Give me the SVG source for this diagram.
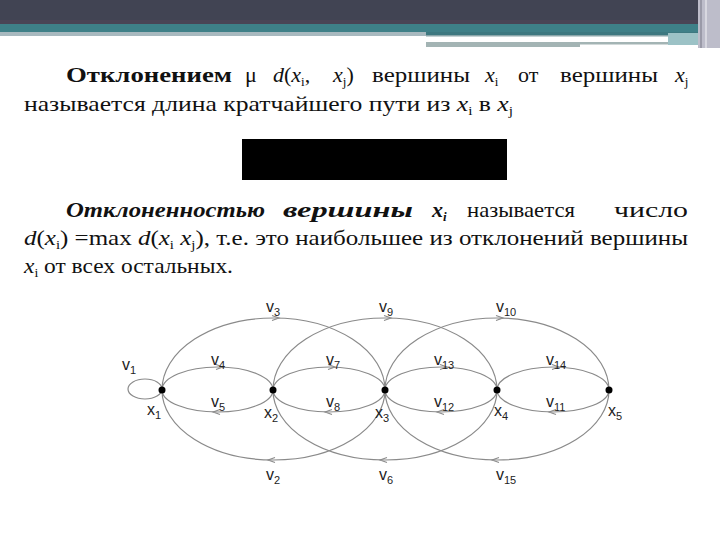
<svg xmlns="http://www.w3.org/2000/svg" xmlns:xlink="http://www.w3.org/1999/xlink" width="720" height="540" viewBox="0 0 720 540">
<style>
.t{font-family:"Liberation Serif","DejaVu Serif",serif;font-size:22px;fill:#111}
.b{font-weight:bold}
.bi{font-weight:bold;font-style:italic}
.i{font-style:italic}
.s{font-size:13px}
.e{fill:none;stroke:#8a8a8a;stroke-width:1.2}
.ah{fill:none;stroke:#8a8a8a;stroke-width:1.1}
.lb{font-family:"Liberation Sans",Arial,sans-serif;font-size:16px;fill:#222}
.sb{font-size:11px}
.dot{fill:#000}
</style>
<defs>
<path id="ah" class="ah" d="M-6,-2.5 L1,0 L-6,2.5"/>
</defs>
<rect width="720" height="540" fill="#fff"/>
<g id="header">
<rect x="0" y="0" width="720" height="24" fill="#414453"/>
<rect x="0" y="20" width="720" height="4" fill="#4a4556"/>
<rect x="0" y="24" width="720" height="9" fill="#3f8088"/>
<rect x="0" y="32" width="426" height="4" fill="#a8b9bf"/>
<rect x="426" y="32" width="274" height="3" fill="#3d7880"/>
<rect x="426" y="35" width="274" height="1.5" fill="#8aa6aa"/>
<rect x="426" y="42" width="154" height="5" fill="#a3b4b4"/>
<rect x="580" y="42" width="88" height="2.5" fill="#a3b4b4"/>
<rect x="668" y="33" width="32" height="12" fill="#9cc2c6"/>
<rect x="698" y="0" width="22" height="48" fill="#bdbdca"/>
<rect x="700" y="0" width="2" height="48" fill="#9a9aa8"/>
<rect x="705" y="0" width="2" height="48" fill="#d8d8e0"/>
</g>
<g id="text">
<text class="t b" x="66" y="82" textLength="166" lengthAdjust="spacingAndGlyphs">Отклонением</text>
<text class="t" x="245" y="82">μ</text>
<text class="t" x="273" y="82"><tspan class="i">d</tspan>(<tspan class="i">x</tspan><tspan class="s" dy="4">i</tspan><tspan dy="-4">,</tspan></text>
<text class="t" x="333" y="82"><tspan class="i">x</tspan><tspan class="s" dy="4">j</tspan><tspan dy="-4">)</tspan></text>
<text class="t" x="372" y="82" textLength="98" lengthAdjust="spacingAndGlyphs">вершины</text>
<text class="t" x="485" y="82"><tspan class="i">x</tspan><tspan class="s" dy="4">i</tspan></text>
<text class="t" x="518" y="82">от</text>
<text class="t" x="560" y="82" textLength="98" lengthAdjust="spacingAndGlyphs">вершины</text>
<text class="t" x="675" y="82"><tspan class="i">x</tspan><tspan class="s" dy="4">j</tspan></text>
<text class="t" x="24" y="111" textLength="489" lengthAdjust="spacingAndGlyphs">называется длина кратчайшего пути из <tspan class="i">x</tspan><tspan class="s" dy="4">i</tspan><tspan dy="-4"> в </tspan><tspan class="i">x</tspan><tspan class="s" dy="4">j</tspan></text>
<rect x="242" y="139" width="265" height="41" fill="#000"/>
<text class="t bi" x="66" y="217" textLength="199" lengthAdjust="spacingAndGlyphs">Отклоненностью</text>
<text class="t bi" x="283" y="217" textLength="130" lengthAdjust="spacingAndGlyphs">вершины</text>
<text class="t bi" x="432" y="217">x<tspan class="s" dy="4">i</tspan></text>
<text class="t" x="467" y="217" textLength="108" lengthAdjust="spacingAndGlyphs">называется</text>
<text class="t" x="614" y="217" textLength="74" lengthAdjust="spacingAndGlyphs">число</text>
<text class="t" x="24" y="245" textLength="664" lengthAdjust="spacingAndGlyphs"><tspan class="i">d</tspan>(<tspan class="i">x</tspan><tspan class="s" dy="4">i</tspan><tspan dy="-4">) =max </tspan><tspan class="i">d</tspan>(<tspan class="i">x</tspan><tspan class="s" dy="4">i</tspan><tspan dy="-4"> </tspan><tspan class="i">x</tspan><tspan class="s" dy="4">j</tspan><tspan dy="-4">), т.е. это наибольшее из отклонений вершины</tspan></text>
<text class="t" x="24" y="273" textLength="209" lengthAdjust="spacingAndGlyphs"><tspan class="i">x</tspan><tspan class="s" dy="4">i</tspan><tspan dy="-4"> от всех остальных.</tspan></text>
</g>
<g id="connectors">
<ellipse class="e" cx="145" cy="389" rx="17" ry="10"/>
<path class="e" d="M162,390 A111.5,72 0 0 1 385,390"/>
<path class="e" d="M273,390 A112,72 0 0 1 497,390"/>
<path class="e" d="M385,390 A112,72 0 0 1 609,390"/>
<path class="e" d="M385,390 A111.5,70 0 0 1 162,390"/>
<path class="e" d="M497,390 A112,70 0 0 1 273,390"/>
<path class="e" d="M609,390 A112,70 0 0 1 385,390"/>
<path class="e" d="M162,390 A55.5,23 0 0 1 273,390"/>
<path class="e" d="M273,390 A56,23 0 0 1 385,390"/>
<path class="e" d="M385,390 A56,23 0 0 1 497,390"/>
<path class="e" d="M497,390 A56,23 0 0 1 609,390"/>
<path class="e" d="M273,390 A55.5,22 0 0 1 162,390"/>
<path class="e" d="M385,390 A56,22 0 0 1 273,390"/>
<path class="e" d="M497,390 A56,22 0 0 1 385,390"/>
<path class="e" d="M609,390 A56,22 0 0 1 497,390"/>
<use xlink:href="#ah" transform="translate(278,318)"/>
<use xlink:href="#ah" transform="translate(390,318)"/>
<use xlink:href="#ah" transform="translate(502,318)"/>
<use xlink:href="#ah" transform="translate(269,460) rotate(180)"/>
<use xlink:href="#ah" transform="translate(381,460) rotate(180)"/>
<use xlink:href="#ah" transform="translate(493,460) rotate(180)"/>
<use xlink:href="#ah" transform="translate(222,367)"/>
<use xlink:href="#ah" transform="translate(334,367)"/>
<use xlink:href="#ah" transform="translate(446,367)"/>
<use xlink:href="#ah" transform="translate(558,367)"/>
<use xlink:href="#ah" transform="translate(214,412) rotate(180)"/>
<use xlink:href="#ah" transform="translate(326,412) rotate(180)"/>
<use xlink:href="#ah" transform="translate(438,412) rotate(180)"/>
<use xlink:href="#ah" transform="translate(550,412) rotate(180)"/>
</g>
<g id="x1"><circle class="dot" cx="162" cy="390" r="3.5"/><text class="lb" x="147" y="415">x<tspan class="sb" dy="4">1</tspan></text></g>
<g id="x2"><circle class="dot" cx="273" cy="390" r="3.5"/><text class="lb" x="264" y="418">x<tspan class="sb" dy="4">2</tspan></text></g>
<g id="x3"><circle class="dot" cx="385" cy="390" r="3.5"/><text class="lb" x="375" y="418">x<tspan class="sb" dy="4">3</tspan></text></g>
<g id="x4"><circle class="dot" cx="497" cy="390" r="3.5"/><text class="lb" x="494" y="416">x<tspan class="sb" dy="4">4</tspan></text></g>
<g id="x5"><circle class="dot" cx="609" cy="390" r="3.5"/><text class="lb" x="608" y="416">x<tspan class="sb" dy="4">5</tspan></text></g>
<g id="labels">
<text class="lb" x="122" y="370">v<tspan class="sb" dy="4">1</tspan></text>
<text class="lb" x="266" y="312">v<tspan class="sb" dy="4">3</tspan></text>
<text class="lb" x="379" y="312">v<tspan class="sb" dy="4">9</tspan></text>
<text class="lb" x="496" y="312">v<tspan class="sb" dy="4">10</tspan></text>
<text class="lb" x="211" y="365">v<tspan class="sb" dy="4">4</tspan></text>
<text class="lb" x="326" y="365">v<tspan class="sb" dy="4">7</tspan></text>
<text class="lb" x="434" y="365">v<tspan class="sb" dy="4">13</tspan></text>
<text class="lb" x="546" y="365">v<tspan class="sb" dy="4">14</tspan></text>
<text class="lb" x="211" y="407">v<tspan class="sb" dy="4">5</tspan></text>
<text class="lb" x="326" y="407">v<tspan class="sb" dy="4">8</tspan></text>
<text class="lb" x="434" y="407">v<tspan class="sb" dy="4">12</tspan></text>
<text class="lb" x="546" y="407">v<tspan class="sb" dy="4">11</tspan></text>
<text class="lb" x="266" y="480">v<tspan class="sb" dy="4">2</tspan></text>
<text class="lb" x="379" y="480">v<tspan class="sb" dy="4">6</tspan></text>
<text class="lb" x="496" y="480">v<tspan class="sb" dy="4">15</tspan></text>
</g>
</svg>
